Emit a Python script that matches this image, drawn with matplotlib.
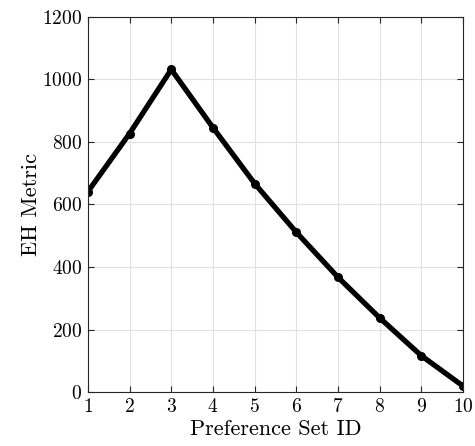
import matplotlib
matplotlib.use('Agg')
import matplotlib.pyplot as plt

set_ids = [1, 2, 3, 4, 5, 6, 7, 8, 9, 10]
eh_metric = [641, 827, 1032, 846, 667, 511, 367, 237, 116, 19]

plt.rcParams.update({
    'font.family': 'cmr10',
    'mathtext.fontset': 'cm',
    'axes.formatter.use_mathtext': True,
    'xtick.direction': 'in',
    'ytick.direction': 'in',
})

fig = plt.figure(figsize=(4.75, 4.46), dpi=100)
ax = fig.add_axes([0.185, 0.121, 0.79, 0.841])

ax.plot(set_ids, eh_metric, color='black', linewidth=3.8, marker='o', markersize=5.5)

ax.set_xlim(1, 10)
ax.set_ylim(0, 1200)
ax.set_xticks(set_ids)
ax.set_yticks([0, 200, 400, 600, 800, 1000, 1200])
ax.grid(True, color='#e0e0e0', linewidth=0.8)
ax.set_axisbelow(True)
for s in ax.spines.values():
    s.set_color('#262626')
    s.set_linewidth(0.8)
ax.tick_params(labelsize=14, color='#262626', length=4, pad=4, top=True, right=True,
               labeltop=False, labelright=False)
ax.set_xlabel('Preference Set ID', fontsize=16, labelpad=3)
ax.set_ylabel('EH Metric', fontsize=16, labelpad=1)

fig.savefig('out.png', dpi=100)
